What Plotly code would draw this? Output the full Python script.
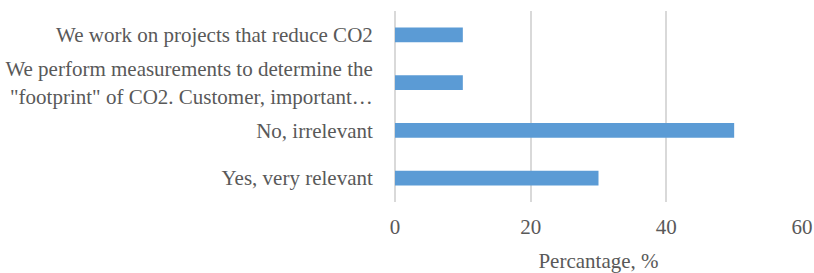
import plotly.graph_objects as go

categories = [
    "Yes, very relevant",
    "No, irrelevant",
    "We perform measurements to determine the<br>\"footprint\" of CO2. Customer, important…",
    "We work on projects that reduce CO2",
]
values = [30, 50, 10, 10]
x_ticks = [0, 20, 40, 60]

font_family = "Liberation Serif"
text_color = "#595959"
fsize = 21

fig = go.Figure(
    go.Bar(
        y=categories,
        x=values,
        orientation="h",
        marker=dict(color="#5B9BD5", line=dict(width=0)),
        width=0.31,
        hoverinfo="skip",
    )
)

fig.update_layout(
    width=814,
    height=273,
    margin=dict(l=395, r=12, t=11, b=71),
    plot_bgcolor="white",
    paper_bgcolor="white",
    showlegend=False,
    font=dict(family=font_family, size=fsize, color=text_color),
)

fig.update_xaxes(
    range=[0, 60],
    tickvals=x_ticks,
    showgrid=True,
    gridcolor="#D9D9D9",
    gridwidth=1.5,
    zeroline=True,
    zerolinecolor="#D9D9D9",
    zerolinewidth=1.5,
    showline=False,
    ticks="outside",
    ticklen=6,
    tickcolor="rgba(0,0,0,0)",
    tickfont=dict(family=font_family, size=fsize, color=text_color),
    title=dict(text="Percantage, %", font=dict(family=font_family, size=fsize, color=text_color), standoff=18),
    automargin=False,
)

fig.update_yaxes(
    categoryorder="array",
    categoryarray=categories,
    showgrid=False,
    zeroline=False,
    showline=False,
    ticks="outside",
    ticklen=17,
    tickcolor="rgba(0,0,0,0)",
    tickfont=dict(family=font_family, size=fsize, color=text_color),
    automargin=False,
)

fig.write_html(
    "out.html",
    config={"displayModeBar": False},
    post_script="document.body.style.margin='0';document.body.style.overflow='hidden';",
)
